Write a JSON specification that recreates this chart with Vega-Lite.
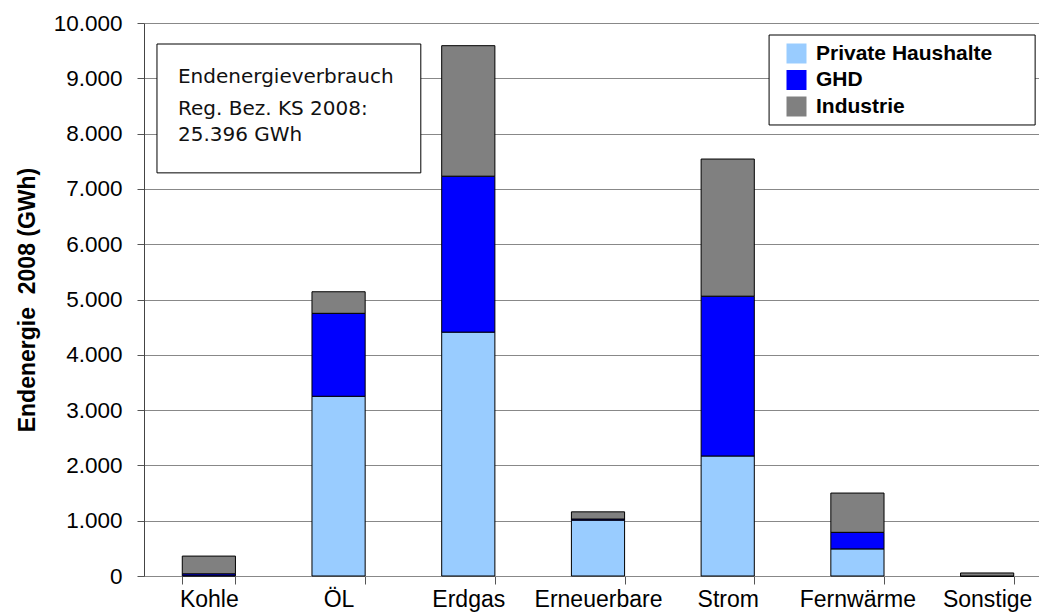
{
  "$schema": "https://vega.github.io/schema/vega-lite/v6.json",
  "autosize": "none",
  "width": 908,
  "height": 553,
  "padding": {"left": 144, "top": 23, "right": 0, "bottom": 38},
  "background": "white",
  "config": {
    "locale": {"number": {"decimal": ",", "thousands": ".", "grouping": [3], "currency": ["", " €"]}},
    "view": {"stroke": null},
    "font": "Liberation Sans"
  },
  "datasets": {
    "bars": [
      {"Energietraeger": "Kohle", "Sektor": "Private Haushalte", "o": 1, "GWh": 5},
      {"Energietraeger": "Kohle", "Sektor": "GHD", "o": 2, "GWh": 35},
      {"Energietraeger": "Kohle", "Sektor": "Industrie", "o": 3, "GWh": 320},
      {"Energietraeger": "ÖL", "Sektor": "Private Haushalte", "o": 1, "GWh": 3250},
      {"Energietraeger": "ÖL", "Sektor": "GHD", "o": 2, "GWh": 1500},
      {"Energietraeger": "ÖL", "Sektor": "Industrie", "o": 3, "GWh": 390},
      {"Energietraeger": "Erdgas", "Sektor": "Private Haushalte", "o": 1, "GWh": 4410},
      {"Energietraeger": "Erdgas", "Sektor": "GHD", "o": 2, "GWh": 2820},
      {"Energietraeger": "Erdgas", "Sektor": "Industrie", "o": 3, "GWh": 2360},
      {"Energietraeger": "Erneuerbare", "Sektor": "Private Haushalte", "o": 1, "GWh": 1010},
      {"Energietraeger": "Erneuerbare", "Sektor": "GHD", "o": 2, "GWh": 20},
      {"Energietraeger": "Erneuerbare", "Sektor": "Industrie", "o": 3, "GWh": 130},
      {"Energietraeger": "Strom", "Sektor": "Private Haushalte", "o": 1, "GWh": 2170},
      {"Energietraeger": "Strom", "Sektor": "GHD", "o": 2, "GWh": 2890},
      {"Energietraeger": "Strom", "Sektor": "Industrie", "o": 3, "GWh": 2480},
      {"Energietraeger": "Fernwärme", "Sektor": "Private Haushalte", "o": 1, "GWh": 490},
      {"Energietraeger": "Fernwärme", "Sektor": "GHD", "o": 2, "GWh": 300},
      {"Energietraeger": "Fernwärme", "Sektor": "Industrie", "o": 3, "GWh": 710},
      {"Energietraeger": "Sonstige", "Sektor": "Private Haushalte", "o": 1, "GWh": 0},
      {"Energietraeger": "Sonstige", "Sektor": "GHD", "o": 2, "GWh": 0},
      {"Energietraeger": "Sonstige", "Sektor": "Industrie", "o": 3, "GWh": 55}
    ],
    "boxes": [
      {"x0": 0.1, "x1": 2.134, "y0": 7290, "y1": 9620},
      {"x0": 4.819, "x1": 6.87, "y0": 8156, "y1": 9783}
    ],
    "texts": [
      {"x": 0.262, "y": 8915, "t": "Endenergieverbrauch"},
      {"x": 0.262, "y": 8336, "t": "Reg. Bez. KS 2008:"},
      {"x": 0.262, "y": 7866, "t": "25.396 GWh"}
    ]
  },
  "layer": [
    {
      "data": {"name": "bars"},
      "mark": {"type": "bar", "stroke": "black", "strokeWidth": 1},
      "encoding": {
        "x": {
          "field": "Energietraeger", "type": "nominal", "sort": null,
          "scale": {"paddingInner": 0.59, "paddingOuter": 0.295},
          "axis": {
            "title": null, "labelAngle": 0, "tickBand": "extent",
            "labelFontSize": 23, "labelColor": "black", "labelFont": "Liberation Sans",
            "tickSize": 8, "tickColor": "#555", "domainColor": "#888", "labelPadding": 4,
            "grid": false
          }
        },
        "y": {
          "field": "GWh", "type": "quantitative", "stack": "zero",
          "scale": {"domain": [0, 10000], "nice": false},
          "axis": {
            "title": "Endenergie\u00a0 2008 (GWh)", "titleFontSize": 23, "titleFont": "Liberation Sans",
            "titleFontWeight": "bold", "titleColor": "black", "titlePadding": 14,
            "values": [0, 1000, 2000, 3000, 4000, 5000, 6000, 7000, 8000, 9000, 10000],
            "format": ",d", "labelFontSize": 22.5, "labelColor": "black",
            "tickSize": 7, "tickColor": "#555", "domainColor": "#444", "labelPadding": 15,
            "grid": true, "gridColor": "#888", "gridWidth": 1
          }
        },
        "color": {
          "field": "Sektor", "type": "nominal",
          "scale": {"domain": ["Private Haushalte", "GHD", "Industrie"], "range": ["#99CCFF", "#0000FF", "#808080"]},
          "legend": {
            "title": null, "orient": "none", "legendX": 642, "legendY": 20,
            "padding": 0, "symbolType": "square", "symbolSize": 400, "symbolStrokeWidth": 0,
            "labelFontSize": 21, "labelFontWeight": "bold", "labelColor": "black",
            "labelOffset": 9, "rowPadding": 4.5, "labelLimit": 300,
            "encode": {"symbols": {"update": {"fill": [{"test": "datum.value === 'Industrie'", "value": "#b3b3b3"}, {"scale": "color", "field": "value"}], "opacity": {"value": 1}}}}
          }
        },
        "order": {"field": "o", "type": "quantitative"}
      }
    },
    {
      "data": {"name": "boxes"},
      "mark": {"type": "rect", "fill": "white", "stroke": "black", "strokeWidth": 1},
      "encoding": {
        "x": {"field": "x0", "type": "quantitative", "scale": {"domain": [0, 7], "nice": false}, "axis": null},
        "x2": {"field": "x1"},
        "y": {"field": "y0", "type": "quantitative"},
        "y2": {"field": "y1"}
      }
    },
    {
      "data": {"name": "texts"},
      "mark": {"type": "text", "align": "left", "baseline": "alphabetic", "font": "DejaVu Sans", "fontSize": 20, "color": "#111"},
      "encoding": {
        "x": {"field": "x", "type": "quantitative", "scale": {"domain": [0, 7], "nice": false}, "axis": null},
        "y": {"field": "y", "type": "quantitative"},
        "text": {"field": "t"}
      }
    }
  ],
  "resolve": {"scale": {"x": "independent"}}
}
